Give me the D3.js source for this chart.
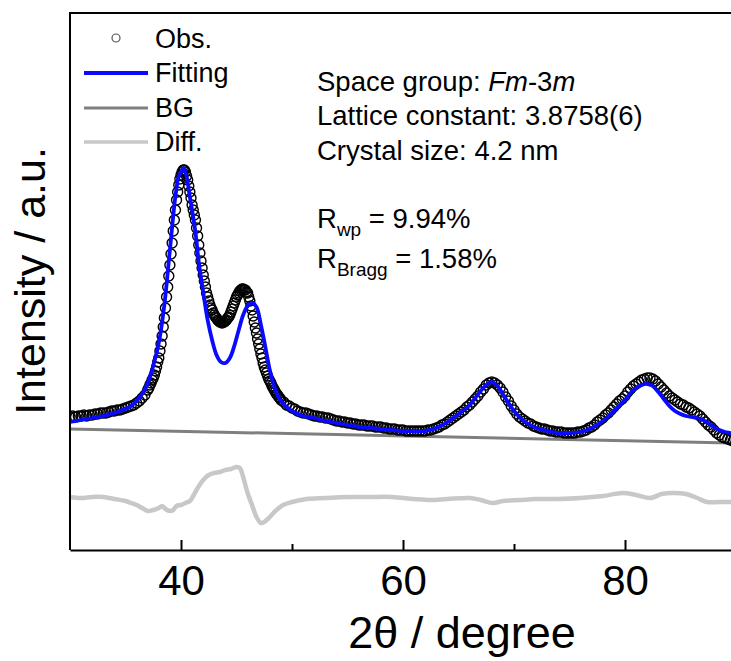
<!DOCTYPE html>
<html>
<head>
<meta charset="utf-8">
<script src="https://cdn.jsdelivr.net/npm/d3@7/dist/d3.min.js"></script>
<style>
  html, body { margin: 0; padding: 0; background: #ffffff; }
  svg { display: block; font-family: "Liberation Sans", Arial, sans-serif; }
</style>
</head>
<body>
<svg id="chart" width="731" height="661"></svg>
<script>
// Observed pattern, three scan segments (start angle, step, intensities)
const obsLowStart = 30.0, obsLowStep = 0.25;
const obsLow = [266,268,266,268,268,270,268,270,270,272,272,274,274,274,276,278,278,280,280,282,
  284,286,288,290,294,298,304,310,320];

const obsPeakStart = 37.1, obsPeakStep = 0.1;
const obsPeak = [
  324,330,334,340,344,350,358,366,376,384,
  398,412,428,446,464,484,506,526,548,570,
  592,614,638,660,680,700,716,730,742,750,
  756,760,760,756,748,740,728,716,704,690,
  680,670,660,644,628,610,594,578,564,550,
  538,526,514,506,498,490,484,480,474,470,
  466,464,460,458,456,456,454,456,456,458,
  460,464,466,470,476,482,488,494,500,506,
  510,514,518,520,522,522,520,520,516,514,
  506,498,488,480,468,456,444,434,422,412,
  402,392,384,374,366,360,354,348,342,338,
  334,328,324,320,316,312,310,306,304,300];

const obsHighStart = 49.25, obsHighStep = 0.25;
const obsHigh = [296,290,288,
  284,282,278,276, 274,274,272,270, 268,268,266,266, 264,264,262,260, 258,258,256,256,
  254,254,252,252, 250,250,250,248, 248,248,246,246, 246,244,244,242, 242,242,240,240,
  240,238,238,238, 238,238,238,238, 238,240,240,242, 244,246,250,252, 256,260,264,268,
  272,276,280,286, 290,296,302,308, 316,322,330,334, 336,334,330,324, 316,306,298,288,
  280,272,266,262, 258,254,252,248, 246,244,242,242, 240,238,238,236, 236,236,234,234,
  234,234,234,236, 236,238,240,244, 246,250,256,260, 264,270,274,280, 286,292,298,302,
  308,316,322,328, 332,336,340,342, 344,344,342,338, 332,326,320,314, 308,304,300,296,
  292,290,286,284, 280,276,272,268, 262,256,250,246, 240,234,230,226, 224,222,220,218,
  216];

// Calculated (fitted) profile
const fitAngle = [30,31,32,33,34,35,35.5,36,36.5,37,37.5,38,38.5,39,39.5,39.8,40,40.2,40.4,40.6,
  40.8,41,41.3,41.6,42,42.4,42.8,43.2,43.6,44,44.4,44.8,45.2,45.6,46,46.4,46.8,47.2,47.6,48,
  48.5,49,49.5,50,51,52,53,54,55,56,57,58,59,60,61,62,63,64,65,66,
  66.5,67,67.5,68,68.5,69,69.5,70,70.5,71,72,73,74,75,76,77,78,79,80,80.5,
  81,81.5,82,82.5,83,83.5,84,84.5,85,85.5,86,86.5,87,87.5,88,88.5,89,89.5,90];
const fitIntensity = [256,260,264,268,274,282,288,298,312,334,368,414,490,600,708,748,756,764,756,736,
  706,680,636,576,516,460,420,390,376,374,384,408,440,470,488,494,486,450,406,360,
  320,298,286,278,268,264,258,254,250,246,244,242,240,238,238,238,244,256,272,290,
  304,318,330,336,328,312,294,278,266,256,244,238,234,234,236,244,258,278,300,314,
  324,330,332,328,316,302,288,278,272,268,266,264,260,254,246,240,236,234,232];

// Background, linear between the end points
const bgAngle = [30, 90];
const bgIntensity = [242, 214];

// Difference curve (offset below the pattern)
const diffAngle = [30,31,32,33,34,35,35.5,36,36.5,37,37.5,38,38.3,38.6,39,39.3,39.6,40,40.4,40.8,
  41.1,41.5,42,42.5,43,43.5,44,44.5,45,45.3,45.6,46,46.4,46.8,47.2,47.5,48,48.5,49.2,50,
  51.3,53,55,57,59,61,62.5,64,66,67,68.1,69,70.5,72,74,76,78,79.8,81,82.3,
  83.3,84.3,85.5,86.5,87.4,88.5,90];
const diffIntensity = [106,104,106,106,102,98,94,90,84,78,80,84,88,82,78,80,88,90,94,98,
  108,124,140,150,154,156,160,162,166,164,146,114,90,66,54,56,66,78,90,96,
  102,104,106,106,106,102,100,102,104,100,94,98,100,102,102,104,108,114,110,104,
  112,114,112,104,96,96,96];

const xMajor = [40, 60, 80];
const xMinor = [50, 70];
const xTitle = "2θ / degree";
const yTitle = "Intensity / a.u.";
const legendItems = ["Obs.", "Fitting", "BG", "Diff."];

const colFit = "#0a0aff", colBg = "#7f7f7f", colDiff = "#c8c8c8";

const svg = d3.select("#chart");
const plotLeft = 70, plotRight = 736, plotTop = 13, plotBottom = 550;

const x = d3.scaleLinear().domain([30, 90]).range([plotLeft, plotRight]);
const y = d3.scaleLinear().domain([0, 1074]).range([plotBottom, plotTop]);

svg.append("defs").append("clipPath").attr("id", "plotClip")
  .append("rect").attr("x", plotLeft).attr("y", plotTop)
  .attr("width", plotRight - plotLeft).attr("height", plotBottom - plotTop);

const plot = svg.append("g").attr("clip-path", "url(#plotClip)");

const segment = (start, step, vals) => vals.map((v, i) => ({ t: +(start + i * step).toFixed(3), v }));
const obs = [].concat(
  segment(obsLowStart, obsLowStep, obsLow),
  segment(obsPeakStart, obsPeakStep, obsPeak),
  segment(obsHighStart, obsHighStep, obsHigh)
);
const pairs = (a, b) => a.map((t, i) => ({ t, v: b[i] }));

const line = d3.line().x(d => x(d.t)).y(d => y(d.v)).curve(d3.curveCatmullRom.alpha(0.5));

// difference
plot.append("path").datum(pairs(diffAngle, diffIntensity))
  .attr("d", line).attr("fill", "none").attr("stroke", colDiff).attr("stroke-width", 4.5)
  .attr("stroke-linejoin", "round");

// background
plot.append("path").datum(pairs(bgAngle, bgIntensity))
  .attr("d", d3.line().x(d => x(d.t)).y(d => y(d.v)))
  .attr("fill", "none").attr("stroke", colBg).attr("stroke-width", 3);

// observed points (open circles)
plot.append("g").selectAll("circle").data(obs).join("circle")
  .attr("cx", d => x(d.t)).attr("cy", d => y(d.v)).attr("r", 5)
  .attr("fill", "none").attr("stroke", "#000").attr("stroke-width", 1.4);

// fitted curve
plot.append("path").datum(pairs(fitAngle, fitIntensity))
  .attr("d", line).attr("fill", "none").attr("stroke", colFit).attr("stroke-width", 3.8)
  .attr("stroke-linejoin", "round");

// frame: left and top edges
svg.append("line").attr("x1", plotLeft).attr("x2", plotLeft).attr("y1", plotTop - 1).attr("y2", plotBottom)
  .attr("stroke", "#000").attr("stroke-width", 2);
svg.append("line").attr("x1", plotLeft - 1).attr("x2", 731).attr("y1", plotTop).attr("y2", plotTop)
  .attr("stroke", "#000").attr("stroke-width", 2);

// bottom axis with inward ticks
const xAxis = svg.append("g").attr("transform", `translate(0,${plotBottom})`)
  .call(d3.axisBottom(x).tickValues(xMajor).tickSize(-10).tickSizeOuter(0).tickPadding(15));
xAxis.select(".domain").attr("stroke-width", 2);
xAxis.selectAll(".tick line").attr("stroke-width", 2);
xAxis.selectAll("text").attr("font-size", 42).attr("fill", "#000")
  .attr("font-family", "Liberation Sans, Arial, sans-serif");

const xMinorAxis = svg.append("g").attr("transform", `translate(0,${plotBottom})`)
  .call(d3.axisBottom(x).tickValues(xMinor).tickSize(-6).tickSizeOuter(0).tickFormat(""));
xMinorAxis.select(".domain").remove();
xMinorAxis.selectAll(".tick line").attr("stroke-width", 2);

// axis titles
svg.append("text").attr("x", 462).attr("y", 648).attr("text-anchor", "middle")
  .attr("font-size", 45).attr("fill", "#000").text(xTitle);
svg.append("text").attr("transform", "translate(45,281) rotate(-90)").attr("text-anchor", "middle")
  .attr("font-size", 43).attr("fill", "#000").text(yTitle);

// legend
const lg = svg.append("g");
const lgBase = [48, 82, 117, 151];
lg.append("circle").attr("cx", 116).attr("cy", 38).attr("r", 4)
  .attr("fill", "none").attr("stroke", "#555").attr("stroke-width", 1.2);
[[colFit, 3.8], [colBg, 3], [colDiff, 3.5]].forEach(([c, w], i) => {
  lg.append("line").attr("x1", 84).attr("x2", 148)
    .attr("y1", lgBase[i + 1] - 9).attr("y2", lgBase[i + 1] - 9)
    .attr("stroke", c).attr("stroke-width", w);
});
legendItems.forEach((t, i) => {
  lg.append("text").attr("x", 155).attr("y", lgBase[i]).attr("font-size", 27)
    .attr("fill", "#000").text(t);
});

// refinement details
const info = svg.append("g").attr("font-size", 27.5).attr("fill", "#000");
const t1 = info.append("text").attr("x", 317).attr("y", 91);
t1.append("tspan").text("Space group: ");
t1.append("tspan").attr("font-style", "italic").text("Fm");
t1.append("tspan").text("-3");
t1.append("tspan").attr("font-style", "italic").text("m");
info.append("text").attr("x", 317).attr("y", 125).text("Lattice constant: 3.8758(6)");
info.append("text").attr("x", 317).attr("y", 160).text("Crystal size: 4.2 nm");

function rLine(yPos, sub, rest) {
  const t = info.append("text").attr("x", 317).attr("y", yPos);
  t.append("tspan").text("R");
  t.append("tspan").attr("font-size", 19).attr("dy", 8).text(sub);
  t.append("tspan").attr("dy", -8).text(" = " + rest);
}
rLine(228, "wp", "9.94%");
rLine(268, "Bragg", "1.58%");
</script>
</body>
</html>
